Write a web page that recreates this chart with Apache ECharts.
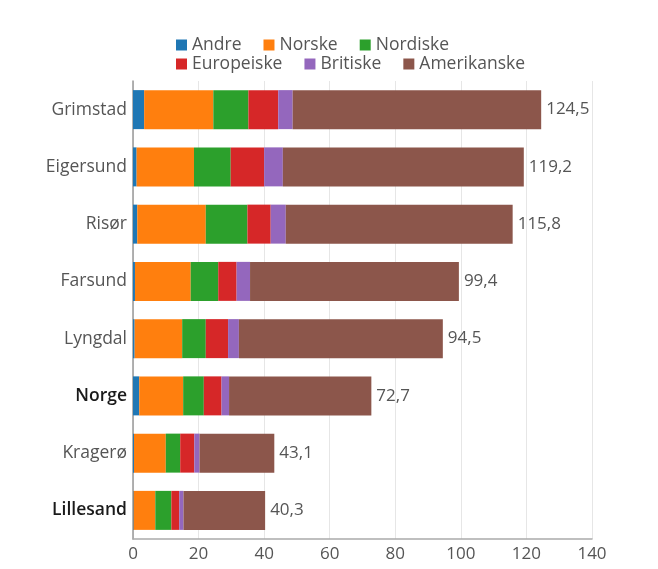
<!DOCTYPE html>
<html>
<head>
<meta charset="utf-8">
<script src="https://cdn.jsdelivr.net/npm/echarts@6/dist/echarts.min.js"></script>
<style>
html,body{margin:0;padding:0;background:#fff;}
#chart{width:658px;height:569px;}
</style>
</head>
<body>
<div id="chart"></div>
<script>
var categories = ['Grimstad','Eigersund','Risør','Farsund','Lyngdal','Norge','Kragerø','Lillesand'];
var boldCategories = ['Norge','Lillesand'];
var seriesNames = ['Andre','Norske','Nordiske','Europeiske','Britiske','Amerikanske'];
var andre       = [3.4, 1.1, 1.3, 0.6, 0.5, 1.9, 0.3, 0.2];
var norske      = [21.1, 17.5, 20.9, 17.0, 14.5, 13.4, 9.7, 6.6];
var nordiske    = [10.7, 11.2, 12.7, 8.4, 7.2, 6.3, 4.4, 4.9];
var europeiske  = [9.1, 10.2, 7.1, 5.6, 6.8, 5.4, 4.3, 2.4];
var britiske    = [4.4, 5.7, 4.6, 4.1, 3.3, 2.3, 1.6, 1.3];
var amerikanske = [75.8, 73.5, 69.2, 63.7, 62.2, 43.4, 22.8, 24.9];
var totals      = [124.5, 119.2, 115.8, 99.4, 94.5, 72.7, 43.1, 40.3];
var xTicks = [0, 20, 40, 60, 80, 100, 120, 140];

var colors = ['#1f77b4','#ff7f0e','#2ca02c','#d62728','#9467bd','#8c564b'];
var values = [andre, norske, nordiske, europeiske, britiske, amerikanske];
var FONT = '"Open Sans", sans-serif';

var chart = echarts.init(document.getElementById('chart'));
var series = seriesNames.map(function (name, i) {
  var s = {
    name: name,
    type: 'bar',
    stack: 'total',
    barWidth: 39,
    itemStyle: { color: colors[i] },
    data: values[i]
  };
  if (i === seriesNames.length - 1) {
    s.label = {
      show: true,
      position: 'right',
      distance: 5,
      color: '#555',
      fontFamily: FONT,
      fontSize: 17,
      formatter: function (p) { return String(totals[p.dataIndex]).replace('.', ','); }
    };
  }
  return s;
});

var legendBase = {
  left: 176,
  padding: 0,
  orient: 'horizontal',
  icon: 'rect',
  itemWidth: 11,
  itemHeight: 11,
  itemGap: 22,
  textStyle: { color: '#555', fontFamily: FONT, fontSize: 17.5, padding: [0, 0, 0, 0] }
};

chart.setOption({
  backgroundColor: '#fff',
  animation: false,
  color: colors,
  legend: [
    Object.assign({}, legendBase, { top: 36, data: seriesNames.slice(0, 3) }),
    Object.assign({}, legendBase, { top: 55, data: seriesNames.slice(3) })
  ],
  grid: { left: 133, right: 66, top: 81, bottom: 30, containLabel: false },
  xAxis: {
    type: 'value',
    min: xTicks[0],
    max: xTicks[xTicks.length - 1],
    interval: 20,
    axisLine: { show: true, lineStyle: { color: '#aaa', width: 1.5 } },
    axisTick: { show: false },
    splitLine: { show: true, lineStyle: { color: '#e6e6e6' } },
    axisLabel: { color: '#555', fontFamily: FONT, fontSize: 17, margin: 7 }
  },
  yAxis: {
    type: 'category',
    inverse: true,
    data: categories,
    axisLine: { show: true, lineStyle: { color: '#999', width: 1.5 } },
    axisTick: { show: false },
    axisLabel: {
      margin: 6,
      color: '#555',
      fontFamily: FONT,
      fontSize: 17.5,
      formatter: function (v) {
        return boldCategories.indexOf(v) >= 0 ? '{b|' + v + '}' : '{n|' + v + '}';
      },
      rich: {
        n: { color: '#555', fontFamily: FONT, fontSize: 17.5 },
        b: { color: '#1a1a1a', fontFamily: FONT, fontSize: 17.5, fontWeight: 600 }
      }
    }
  },
  series: series
});
</script>
</body>
</html>
